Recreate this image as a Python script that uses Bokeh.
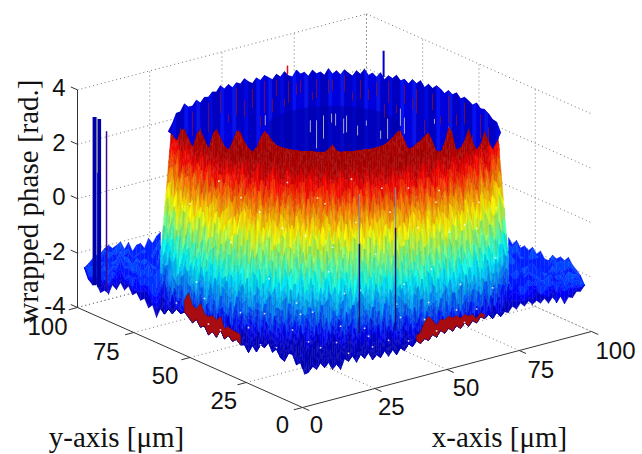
import math
import numpy as np
from bokeh.plotting import figure
from bokeh.models import Range1d, ColumnDataSource
from bokeh.core.properties import value
from bokeh.embed import file_html
from bokeh.resources import INLINE

# ---------- values ----------
z_ticks = [-4, -2, 0, 2, 4]
xy_ticks = [0, 25, 50, 75, 100]
z_tick_labels = ["-4", "-2", "0", "2", "4"]
x_tick_labels = ["0", "25", "50", "75", "100"]
y_tick_labels = ["0", "25", "50", "75", "100"]

# outline height along the y edge (left corner -> front corner), rad
edge_y_z = [-2.42,-2.79,-2.93,-2.82,-3.08,-2.93,-2.97,-2.60,-2.71,-2.38,
            -2.60,-2.38,-2.64,-2.49,-2.71,-2.57,-2.86,-2.68,-3.08,-2.68,
            -2.82,-2.57,-2.68,-2.42,-2.53,-2.42,-2.53,-2.68,-2.49,-2.71,
            -2.60,-2.86,-2.68,-2.82,-2.49,-2.75,-2.57,-2.71,-2.57,-2.71,
            -2.64,-2.86,-2.53,-2.71,-2.38,-2.42,-2.16,-2.46,-2.27,-2.53,
            -2.60,-2.24,-2.20,-2.53,-2.38,-2.80]
# outline height along the x edge (front corner -> right corner), rad
edge_x_z = [-2.77,-2.59,-2.74,-2.53,-2.75,-2.60,-2.90,-2.73,-2.97,-2.60,
            -2.75,-2.57,-2.86,-2.60,-2.79,-2.60,-2.93,-2.77,-2.92,-2.69,
            -2.95,-2.73,-2.97,-2.75,-2.90,-2.68,-2.82,-2.64,-2.79,-2.64,
            -2.75,-2.57,-2.71,-2.49,-2.64,-2.49,-2.64,-2.47,-2.62,-2.44,
            -2.62,-2.44,-2.57,-2.38,-2.49,-2.38,-2.57,-2.38,-2.57,-2.42,
            -2.49,-2.31,-2.46,-2.27,-2.42,-2.27,-2.44,-2.33,-2.47,-2.33,
            -2.55,-2.36,-2.58,-2.40,-2.73,-2.51,-2.58,-2.38,-2.42,-2.24]
# far edge of the floor left and right of the cylinder, rad
back_left_z = [-2.60,-2.49,-2.35,-2.27,-2.24,-2.09,-2.01,-2.16,-2.09,-2.01,
               -2.31,-2.09,-2.46,-2.27,-2.25,-2.47,-2.14,-2.36,-2.14,-2.03]
back_right_z = [-1.90,-2.09,-1.87,-2.09,-1.94,-2.05,-1.87,-2.05,-1.87,-2.09,
                -2.09,-1.83,-1.90,-1.76,-1.83,-1.65,-1.87,-1.98,-2.12,-2.42]
# where the blue top meets the red wall, rad
blue_edge_z = [2.88,2.80,2.58,2.95,3.02,2.69,2.36,2.84,2.99,2.65,
               2.32,2.84,3.02,2.73,2.40,2.25,2.58,2.95,2.91,2.58,
               2.32,2.18,2.36,2.73,2.95,2.80,2.58,2.43,2.36,2.32,
               2.29,2.25,2.25,2.21,2.21,2.21,2.21,2.18,2.18,2.18,
               2.29,2.47,2.25,2.18,2.21,2.21,2.21,2.25,2.25,2.29,
               2.29,2.32,2.36,2.40,2.47,2.58,2.73,2.91,2.99,2.65,
               2.32,2.36,2.51,2.62,2.80,2.91,2.62,2.25,2.21,2.58,
               3.17,2.91,2.29,2.36,2.65,3.10,2.65,2.29,2.51,3.02,
               2.65,2.32,2.58,2.88]
# height of the far rim, rad
rim_z = [2.90,2.78,2.95,2.85,3.02,2.80,2.74,2.88,2.70,2.84,
         2.78,2.92,2.86,3.04,2.88,3.00,2.84,2.98,2.90,3.06,
         2.92,2.82,3.00,2.88,3.04,2.94,2.84,3.02,2.90,3.08,
         2.92,2.86,3.10,2.94,3.00,2.84,3.06,2.92,2.98,2.86,
         3.10,2.90,3.02,2.88,3.06,2.94,2.84,3.04,2.92,3.12,
         2.90,3.00,2.86,3.04,2.80,2.96,2.88,3.02,2.84,2.92,
         2.78,2.96,2.84,2.98,2.76,2.92,2.80,2.94,2.86,2.74,
         2.90,2.80,2.92,2.76,2.88,2.82,2.74,2.90,2.78,2.86,
         2.82,2.76,2.88,2.90]
# wall height levels, rad, and the ripple of the colour bands (tenths of a rad)
wall_z = [4.7,4.45,4.2,3.95,3.7,3.45,3.2,2.95,2.7,2.45,2.2,1.95,1.7,1.45,1.2,0.95,0.7,0.45,0.2,
          -0.05,-0.3,-0.55,-0.8,-1.05,-1.3,-1.55,-1.8,-2.05,-2.3,-2.55,-2.8,
          -3.05,-3.3,-3.55,-3.8,-4.1,-5.0]
ripple_a = [3,-2,1,4,-1,2,-3,1,3,-2, 0,4,-2,1,-3,2,4,-1,0,3,
            -2,1,3,-3,0,2,-1,4,-2,1, 3,-1,-3,2,0,4,-2,1,-1,3,
            -3,2,0,1,4,-2,1,-3,3,0, 2,-2,4,-1,1,3,-3,0,2,-1,
            4,-2,1,3,-1,-3,2,0,4,-2, 1,3,-1,2,-3,0,4,1,-2,3,
            -1,2,0,-3,1,4,-2,2]
ripple_b = [-1,3,0,-3,2,1,-2,4,-1,2, -3,0,3,1,-2,4,-1,-3,2,0,
            3,-2,1,4,-3,0,2,-1,3,1, -2,4,0,-3,2,-1,3,1,-2,0,
            4,-3,1,2,-1,3,-2,0,4,-1, -3,2,1,3,-2,0,4,-3,1,-1,
            2,3,-2,0,4,-1,-3,1,2,-2, 3,0,-1,4,-3,2,1,-2,3,0,
            -1,-3,4,2,-2,1,0,3]
# dark red patches under the surface: top of the patch, rad
red_left_z = [-1.98,-1.65,-2.05,-2.12,-1.83,-2.16,-2.20,-2.09,-2.20,-1.98,-2.38,-2.24,-2.31,-2.31,-2.35]
red_right_z = [-2.46,-2.38,-2.05,-1.87,-2.05,-2.27,-2.09,-2.16,-2.05,-2.16,-2.11,-2.25,-2.14,-2.25,-2.22,-2.42,-2.24,-2.35]
# single outlying spikes: x, y (um), z from, z to (rad)
spike_x = [0, 0, 0, 19.7, 32.2, 66.9, 87.0]
spike_y = [92.4, 90.4, 87.1, 0, 0, 92.6, 75.7]
spike_z0 = [-2.9, -2.9, -2.9, -1.83, -2.07, 2.99, 2.94]
spike_z1 = [3.28, 3.28, 2.95, 1.48, 1.72, 3.30, 3.90]
# grey parts of spikes
grey_x = [0, 19.7, 32.2]
grey_y = [91.2, 0, 0]
grey_z0 = [1.28, 1.48, 1.72]
grey_z1 = [3.27, 3.30, 3.19]
# pale streaks on the top: offset along the picture (um), z from, z to
streak_s = [-18.9,-6.6,-4.9,-3.0,-0.8,0.3,2.5,3.3,6.3,8.7,12.6,14.5,18.0,19.1,27.3]
streak_z0 = [3.13,2.88,2.29,2.65,3.24,3.13,2.84,2.88,2.77,3.13,2.65,2.65,3.13,2.84,3.21]
streak_z1 = [3.50,3.32,3.32,3.50,3.57,3.57,3.39,3.50,3.13,3.32,2.95,3.39,3.76,3.43,3.39]
# dark red flecks on the top: top column, start below the rim, length (rad)
fleck_col = [6,10,13,17,21,24,27,30,33,37,41,44,48,52,55,59,62,66,70,74,78,
             3,8,15,19,23,26,29,32,36,40,46,50,54,57,61,64,68,72,76,80]
fleck_gap = [0.2,0.2,0.2,0.2,0.2,0.2,0.2,0.2,0.2,0.2,0.2,0.2,0.2,0.2,0.2,0.2,0.2,0.2,0.2,0.2,0.2,
             0.6,0.9,1.1,0.8,1.3,0.7,1.0,0.5,0.8,0.4,0.6,0.5,0.9,1.1,0.7,1.2,1.0,0.8,1.1,0.5]
fleck_len = [0.9,1.1,0.8,1.0,0.7,1.2,0.6,0.8,0.5,0.7,0.4,0.6,0.7,0.5,0.8,0.7,0.9,0.6,1.0,0.8,0.9,
             0.4,0.5,0.3,0.6,0.4,0.5,0.3,0.4,0.3,0.5,0.3,0.4,0.5,0.3,0.4,0.5,0.3,0.4,0.3,0.5]
# pale speckles on the wall: wall column, z (rad)
speck_col = [6,9,13,17,20,24,27,31,33,36,38,41,44,46,49,51,54,56,59,62,65,68,71,74,77,
             12,22,29,35,40,43,47,52,57,61,66,70,75,80,83,
             4,15,19,26,30,34,37,42,45,48,50,53,58,60,63,67,69,73,76,79,81,84,11,25,39]
speck_z = [1.2,-1.5,2.4,0.3,-2.2,1.6,-0.8,2.8,-2.6,0.9,-1.9,2.1,-3.0,-1.2,1.4,-2.5,0.2,2.6,-1.7,-3.1,
           1.0,-0.6,2.2,-2.3,0.7,-2.9,-2.7,-3.3,-2.0,-3.2,0.5,-3.4,-2.8,-3.0,-1.0,-2.4,1.8,-1.4,0.4,-2.0,
           -2.6,-3.1,2.0,-2.1,1.1,-1.6,-3.0,-0.4,-2.4,3.0,-1.1,-3.2,1.7,-2.2,2.5,-1.8,-2.9,0.6,-3.3,-2.5,1.3,-1.0,-2.0,-3.4,2.3]

# ---------- projection of the 3-D box ----------
AX, AY = 2.89, 2.25
BX, BY, ZK = 0.76, 1.0, 27.2
OX, OY = 302.0, 407.0


def pr(x, y, z):
    return OX + AX * x - AY * y, OY - BX * x - BY * y - (z + 4) * ZK


def view(s, d, z):
    """s: sideways on the picture, d: towards the viewer (um), about the centre"""
    return pr(50 + 0.789 * s - 0.614 * d, 50 - 0.614 * s - 0.789 * d, z)


def edge(px, z):
    if px <= OX:
        return pr(0, (OX - px) / AY, z)
    return pr((px - OX) / AX, 0, z)


def jet(t):
    t = max(0.07, min(0.95, t))
    r = max(0, min(1, min(4 * t - 1.5, -4 * t + 4.5)))
    g = max(0, min(1, min(4 * t - 0.5, -4 * t + 3.5)))
    b = max(0, min(1, min(4 * t + 0.5, -4 * t + 2.5)))
    return r, g, b


def col(z, shade=1.0):
    r, g, b = jet((z + 3.78) / 7.36)
    return "#%02x%02x%02x" % (int(r * 255 * shade), int(g * 255 * shade), int(b * 255 * shade))


p = figure(width=642, height=454, x_range=Range1d(0, 642), y_range=Range1d(454, 0),
           toolbar_location=None, output_backend="svg", min_border=0,
           background_fill_color="white", border_fill_color="white")
p.axis.visible = False
p.grid.visible = False
p.outline_line_color = None

# ---------- box ----------
gx, gy = [], []


def seg(a, b):
    gx.append([a[0], b[0]])
    gy.append([a[1], b[1]])


for z in z_ticks:
    seg(pr(0, 100, z), pr(100, 100, z))
    seg(pr(100, 100, z), pr(100, 0, z))
for t in xy_ticks[1:]:
    seg(pr(t, 100, -4), pr(t, 100, 4))
    seg(pr(100, t, -4), pr(100, t, 4))
    seg(pr(t, 0, -4), pr(t, 100, -4))
    seg(pr(0, t, -4), pr(100, t, -4))
p.multi_line(gx, gy, line_color="#777777", line_width=1, line_dash="1 3")

ax_x, ax_y = [], []
for a, b in [(pr(0, 0, -4), pr(100, 0, -4)), (pr(0, 0, -4), pr(0, 100, -4)), (pr(0, 100, -4), pr(0, 100, 4))]:
    ax_x.append([a[0], b[0]])
    ax_y.append([a[1], b[1]])
for t in xy_ticks:
    a, b = pr(t, 0, -4), pr(t, -3, -4)
    ax_x.append([a[0], b[0]]); ax_y.append([a[1], b[1]])
    a, b = pr(0, t, -4), pr(-3, t, -4)
    ax_x.append([a[0], b[0]]); ax_y.append([a[1], b[1]])
for z in z_ticks:
    a, b = pr(0, 100, z), pr(0, 103, z)
    ax_x.append([a[0], b[0]]); ax_y.append([a[1], b[1]])
p.multi_line(ax_x, ax_y, line_color="#333333", line_width=1)

# ---------- surface ----------
STEP = 4
edge_z = edge_y_z + edge_x_z
edge_px = [84 + STEP * i for i in range(len(edge_z))]
out_py = [edge(px, z)[1] for px, z in zip(edge_px, edge_z)]

xs, ys, cs = [], [], []


def quad(pts, c):
    xs.append([q[0] for q in pts])
    ys.append([q[1] for q in pts])
    cs.append(c)


# floor wings
wing_frac = [0, .09, .18, .27, .36, .45, .54, .63, .72, .81, .90, 1.0]
wing_col = [-2.6, -2.35, -2.65, -2.3, -2.55, -2.4, -2.7, -2.5, -2.8, -2.95, -3.25]


def wing(cols_px, backs, ripple):
    for k in range(len(cols_px) - 1):
        pa, pb = cols_px[k], cols_px[k + 1]
        ya, yb = backs[k], backs[k + 1]
        oa, ob = out_py[(pa - 84) // STEP], out_py[(pb - 84) // STEP]
        for j in range(len(wing_col)):
            def bnd(idx, top, low, jj):
                if jj == 0:
                    return top
                if jj == len(wing_frac) - 1:
                    return low
                rp = ripple[(idx * 5 + jj * 11) % len(ripple)]
                return top + (low - top) * (wing_frac[jj] + 0.03 * rp)
            quad([(pa, bnd(k, ya, oa, j)), (pb, bnd(k + 1, yb, ob, j)),
                  (pb, bnd(k + 1, yb, ob, j + 1)), (pa, bnd(k, ya, oa, j + 1))], col(wing_col[j]))


left_px = [84 + STEP * i for i in range(len(back_left_z))]
left_back = [pr((px - 77) / AX, 100, z)[1] for px, z in zip(left_px, back_left_z)]
right_px = [508 + STEP * i for i in range(len(back_right_z))]
right_back = [pr(100, (591 - px) / AY, z)[1] for px, z in zip(right_px, back_right_z)]
wing(left_px, left_back, ripple_a)
wing(right_px, right_back, ripple_b)

# wall
top_px = [168 + STEP * i for i in range(len(blue_edge_z))]
edge_py = [view((px - 334) / 3.66, 0, z)[1] for px, z in zip(top_px, blue_edge_z)]
WSTEP = 2
wall_px = [160 + WSTEP * i for i in range(175)]
HALF = 176.0
FRONT = 40.0


def wall_xy(k, z):
    px0 = wall_px[k]
    t = (px0 - 334) / HALF
    narrow = 1 - 0.06 * max(0.0, min(1.0, (z + 1.5) / 4.5))
    d = FRONT * math.sqrt(max(0.0, 1 - t * t))
    s = (px0 - 334) * narrow / 3.66
    x, y = view(s, d, z)
    upper = float(np.interp(x, top_px, edge_py))
    low = float(np.interp(px0, edge_px, out_py))
    return x, min(max(y, upper), low)


def wall_pt(k, j):
    z = wall_z[j]
    rp = 0.0
    if 0 < j < len(wall_z) - 1:
        g = j // 3
        lst = ripple_a if g % 2 == 0 else ripple_b
        idx = k // 2 if g % 3 == 0 else k
        rp = 0.1 * lst[(idx + g * 7 + (j % 3) * 2 * (k % 2)) % len(lst)]
    return wall_xy(k, z + rp)


for j in range(len(wall_z) - 1):
    zm = 0.5 * (wall_z[j] + wall_z[j + 1])
    for k in range(len(wall_px) - 1):
        sh = 1 - 0.04 * abs(ripple_a[(k + 3 * j) % len(ripple_a)])
        quad([wall_pt(k, j), wall_pt(k + 1, j), wall_pt(k + 1, j + 1), wall_pt(k, j + 1)], col(zm, sh))

src = ColumnDataSource(dict(xs=xs, ys=ys, c=cs))
p.patches("xs", "ys", source=src, fill_color="c", line_color="c", line_width=0.4)

# dark red patches along the outline
for first, tops in ((184, red_left_z), (416, red_right_z)):
    rx, ry = [], []
    for i, z in enumerate(tops):
        px = first + STEP * i
        rx.append(px)
        ry.append(edge(px, z)[1])
    for i in range(len(tops) - 1, -1, -1):
        px = first + STEP * i
        rx.append(px)
        ry.append(out_py[(px - 84) // STEP])
    p.patch(rx, ry, fill_color="#a80c10", line_color="#7a0a0a", line_width=0.6)

# blue top
RIM = 46.0
rim_pts = []
for px, z in zip(top_px, rim_z):
    t = (px - 334) / 165.0
    rim_pts.append(view((px - 334) / 3.66, -RIM * math.sqrt(max(0.0, 1 - t * t)), z))
top_x = [q[0] for q in rim_pts] + top_px[::-1]
top_y = [q[1] for q in rim_pts] + edge_py[::-1]
p.patch(top_x, top_y, fill_color="#0000c8", line_color="#0000c8", line_width=0.5)
blues = ["#0000c8", "#0a14e6", "#0000dc", "#0610f0", "#0000c0", "#0008e0"]
tx, ty, tc = [], [], []
for i in range(len(top_px) - 1):
    tx.append([rim_pts[i][0], rim_pts[i + 1][0], top_px[i + 1], top_px[i]])
    ty.append([rim_pts[i][1], rim_pts[i + 1][1], edge_py[i + 1], edge_py[i]])
    tc.append(blues[(i * 5 + i // 3) % len(blues)])
p.patches(tx, ty, fill_color=tc, line_color=tc, line_width=0.4)

# darker inner ellipse
INNER = 18.9
ix, iy = [], []
for px, ed in zip(top_px, edge_py):
    s = (px - 334) / 3.66
    if abs(s) < INNER:
        ix.append(px)
        iy.append(view(s, -18.5 * math.sqrt(1 - (s / INNER) ** 2), 3.0)[1])
for px, ed in reversed(list(zip(top_px, edge_py))):
    s = (px - 334) / 3.66
    if abs(s) < INNER:
        ix.append(px)
        iy.append(ed)
p.patch(ix, iy, fill_color="#0000aa", line_color=None, fill_alpha=0.6)

# flecks, streaks
fx, fy = [], []
for c, gap, ln in zip(fleck_col, fleck_gap, fleck_len):
    a = rim_pts[c]
    fx.append([a[0], a[0]])
    fy.append([a[1] + gap * ZK, a[1] + (gap + ln) * ZK])
p.multi_line(fx, fy, line_color="#8c1420", line_width=1, line_alpha=0.75)
sx, sy = [], []
for s, a, b in zip(streak_s, streak_z0, streak_z1):
    pa, pb = view(s, 0, a), view(s, 0, b)
    sx.append([pa[0], pb[0]])
    sy.append([pa[1], pb[1]])
p.multi_line(sx, sy, line_color="#a8a8c8", line_width=1)

# speckles
sp_x, sp_y = [], []
for k, z in zip(speck_col, speck_z):
    q = wall_xy(k * 2, z)
    sp_x.append(q[0])
    sp_y.append(q[1])
p.scatter(sp_x, sp_y, marker="square", size=1.6, fill_color="white", line_color=None, fill_alpha=0.85)

# spikes
skx, sky, wid, cl = [], [], [], []
for x, y, a, b, c, w in zip(spike_x, spike_y, spike_z0, spike_z1,
                            ["#0000aa", "#0000aa", "#3a0a90", "#10107a", "#10107a", "#e01010", "#0000c8"],
                            [4, 4, 1.5, 1.5, 1.5, 1.5, 2]):
    pa, pb = pr(x, y, a), pr(x, y, b)
    skx.append([pa[0], pb[0]]); sky.append([pa[1], pb[1]]); wid.append(w); cl.append(c)
p.multi_line(skx, sky, line_color=cl, line_width=wid)
gxx, gyy = [], []
for x, y, a, b in zip(grey_x, grey_y, grey_z0, grey_z1):
    pa, pb = pr(x, y, a), pr(x, y, b)
    gxx.append([pa[0], pb[0]]); gyy.append([pa[1], pb[1]])
p.multi_line(gxx, gyy, line_color="#8a8a9a", line_width=1.2)

# ---------- texts ----------
sans = value("Liberation Sans")
serif = value("Liberation Serif")
tx_z = [pr(0, 100, z)[0] - 12 for z in z_ticks]
ty_z = [pr(0, 100, z)[1] - 2 for z in z_ticks]
p.text(tx_z, ty_z, text=z_tick_labels, text_font=sans, text_font_size="24px",
       text_align="right", text_baseline="middle", text_color="#111111")
lx_x = [pr(t, 0, -4)[0] + 14 + 0.1 * t for t in xy_ticks]
lx_y = [pr(t, 0, -4)[1] + 17 + 0.02 * t for t in xy_ticks]
p.text(lx_x, lx_y, text=x_tick_labels, text_font=sans, text_font_size="24px",
       text_align="center", text_baseline="middle", text_color="#111111")
ly_x = [pr(0, t, -4)[0] - 20 - 0.1 * t for t in xy_ticks]
ly_y = [pr(0, t, -4)[1] + 17 + 0.02 * t for t in xy_ticks]
p.text(ly_x, ly_y, text=y_tick_labels, text_font=sans, text_font_size="24px",
       text_align="center", text_baseline="middle", text_color="#111111")

p.text([27], [201], text=["wrapped phase [rad.]"], text_font=serif, text_font_size="29px",
       angle=math.pi / 2, text_align="center", text_baseline="middle", text_color="#111111")
p.text([116], [436], text=["y-axis [\u03bcm]"], text_font=serif, text_font_size="29px",
       text_align="center", text_baseline="middle", text_color="#111111")
p.text([499], [436], text=["x-axis [\u03bcm]"], text_font=serif, text_font_size="29px",
       text_align="center", text_baseline="middle", text_color="#111111")

open("out.html", "w").write(file_html(p, INLINE))
